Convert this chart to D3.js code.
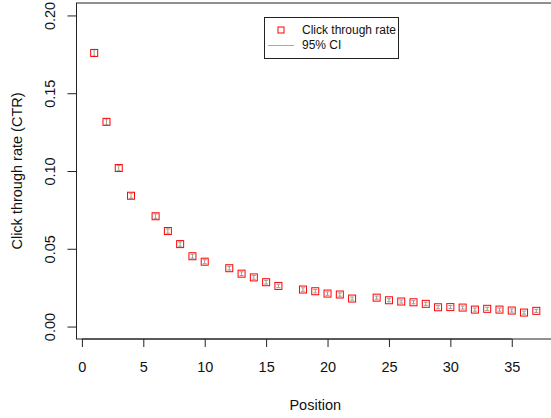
<!DOCTYPE html>
<html>
<head>
<meta charset="utf-8">
<script src="https://cdnjs.cloudflare.com/ajax/libs/d3/7.8.5/d3.min.js"></script>
<style>
    body { margin: 0; background: #fff; }
    svg { display: block; font-family: "Liberation Sans", Arial, sans-serif; }
</style>
</head>
<body>
<svg width="551" height="418"></svg>
<script>
    // positions 5, 11, 17, 23 have no data
    var positions = [1, 2, 3, 4, 6, 7, 8, 9, 10, 12, 13, 14, 15, 16, 18, 19, 20, 21, 22,
        24, 25, 26, 27, 28, 29, 30, 31, 32, 33, 34, 35, 36, 37];
    var ctr = [0.1759, 0.1316, 0.1019, 0.0841, 0.0709, 0.0614, 0.0530, 0.0452, 0.0417,
        0.0375, 0.0340, 0.0316, 0.0285, 0.0261, 0.0238, 0.0227, 0.0212, 0.0206, 0.0180,
        0.0186, 0.0169, 0.0161, 0.0156, 0.0146, 0.0124, 0.0125, 0.0122, 0.0109, 0.0114,
        0.0109, 0.0103, 0.0090, 0.0101];
    var ciHalf = [0.0021, 0.0019, 0.0017, 0.0016, 0.0015, 0.0014, 0.0014, 0.0013, 0.0013,
        0.0012, 0.0012, 0.0012, 0.0012, 0.0011, 0.0011, 0.0011, 0.0011, 0.0011, 0.0010,
        0.0010, 0.0010, 0.0010, 0.0010, 0.0010, 0.0010, 0.0010, 0.0010, 0.0010, 0.0010,
        0.0010, 0.0010, 0.0010, 0.0010];
    var xTicks = [0, 5, 10, 15, 20, 25, 30, 35];
    var yTicks = [0.00, 0.05, 0.10, 0.15, 0.20];
    var legendLabels = ["Click through rate", "95% CI"];

    var svg = d3.select("svg");
    var boxLeft = 76.5, boxRight = 554, boxTop = 3, boxBottom = 339;

    var x = d3.scaleLinear().domain([-0.44, 38.44]).range([boxLeft, boxRight]);
    var y = d3.scaleLinear().domain([-0.008, 0.208]).range([boxBottom, boxTop]);

    var data = positions.map(function(p, i) {
        return { x: p, y: ctr[i], lo: ctr[i] - ciHalf[i], hi: ctr[i] + ciHalf[i] };
    });

    // plot box
    svg.append("rect")
        .attr("x", boxLeft).attr("y", boxTop)
        .attr("width", boxRight - boxLeft).attr("height", boxBottom - boxTop)
        .attr("fill", "none").attr("stroke", "#222").attr("stroke-width", 1);

    var xAxis = svg.append("g")
        .attr("transform", "translate(0," + boxBottom + ")")
        .call(d3.axisBottom(x).tickValues(xTicks).tickSize(8).tickPadding(15)
            .tickFormat(d3.format("d")));
    xAxis.select(".domain").attr("d", "M" + x(0) + ",0H" + x(35)).attr("stroke", "#222");
    xAxis.selectAll(".tick line").attr("stroke", "#222");
    xAxis.selectAll("text").attr("font-size", 14.5).attr("fill", "#111");

    var yAxis = svg.append("g")
        .attr("transform", "translate(" + boxLeft + ",0)")
        .call(d3.axisLeft(y).tickValues(yTicks).tickSize(9).tickFormat(d3.format(".2f")));
    yAxis.select(".domain").attr("d", "M0," + y(0) + "V" + y(0.2)).attr("stroke", "#222");
    yAxis.selectAll(".tick line").attr("stroke", "#222");
    yAxis.selectAll("text")
        .attr("font-size", 14.5).attr("fill", "#111")
        .attr("x", null).attr("dy", null)
        .attr("text-anchor", "middle")
        .attr("transform", "translate(-22,0) rotate(-90)");

    svg.append("text")
        .attr("x", (boxLeft + boxRight) / 2).attr("y", 410)
        .attr("text-anchor", "middle").attr("font-size", 14.5).attr("fill", "#111")
        .text("Position");

    svg.append("text")
        .attr("transform", "translate(22," + ((boxTop + boxBottom) / 2) + ") rotate(-90)")
        .attr("text-anchor", "middle").attr("font-size", 14.5).attr("fill", "#111")
        .text("Click through rate (CTR)");

    // confidence intervals
    var ci = svg.append("g").attr("stroke", "#999").attr("stroke-width", 1).attr("fill", "none");
    ci.selectAll("path").data(data).enter().append("path")
        .attr("d", function(d) {
            var cx = x(d.x), y0 = y(d.lo), y1 = y(d.hi);
            return "M" + cx + "," + y0 + "V" + y1 +
                "M" + (cx - 2) + "," + y0 + "H" + (cx + 2) +
                "M" + (cx - 2) + "," + y1 + "H" + (cx + 2);
        });

    // points
    svg.append("g").selectAll("rect").data(data).enter().append("rect")
        .attr("x", function(d) { return x(d.x) - 3.5; })
        .attr("y", function(d) { return y(d.y) - 3.5; })
        .attr("width", 7).attr("height", 7)
        .attr("fill", "none").attr("stroke", "#f00").attr("stroke-width", 1);

    // legend
    var lg = svg.append("g");
    lg.append("rect")
        .attr("x", 264.5).attr("y", 17.5).attr("width", 134).attr("height", 41)
        .attr("fill", "#fff").attr("stroke", "#222");
    lg.append("rect")
        .attr("x", 278).attr("y", 27).attr("width", 6).attr("height", 6)
        .attr("fill", "none").attr("stroke", "#f00");
    lg.append("line")
        .attr("x1", 268).attr("x2", 294).attr("y1", 45.5).attr("y2", 45.5)
        .attr("stroke", "#aaa");
    lg.selectAll("text.lab").data(legendLabels).enter().append("text")
        .attr("class", "lab")
        .attr("x", 302).attr("y", function(d, i) { return 34 + i * 15; })
        .attr("font-size", 12).attr("fill", "#111")
        .text(function(d) { return d; });
</script>
</body>
</html>
